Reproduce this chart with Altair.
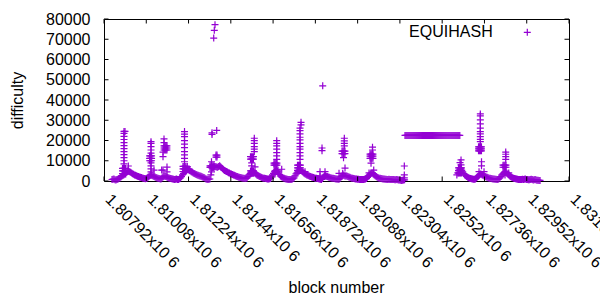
import altair as alt
import pandas as pd

SERIES_NAME = "EQUIHASH"
PURPLE = "#9400D3"
FONT = "Liberation Sans"
FS = 16

X_DOMAIN = [1807920, 1831680]
Y_DOMAIN = [0, 80000]
X_TICKS = [1807920, 1810080, 1812240, 1814400, 1816560, 1818720,
           1820880, 1823040, 1825200, 1827360, 1829520, 1831680]
Y_TICKS = [0, 10000, 20000, 30000, 40000, 50000, 60000, 70000, 80000]

# consecutive-block baseline, read every 50 blocks (A at +0, B at +50)
BASE1_START = 1808330
BASE1_STEP = 100
BASE1_A = [
    700, 1000, 500, 900, 1500, 2500, 3000, 3500, 5000, 4600,
    4000, 3300, 2800, 2400, 2000, 1700, 1300, 1100, 1500, 2500,
    3000, 2500, 2000, 1500, 1200, 1000, 2000, 2500, 2000, 1500,
    1200, 1000, 800, 1000, 700, 1500, 3000, 4500, 5500, 5500,
    5000, 4300, 3700, 3200, 2800, 2500, 2100, 1700, 1000, 800,
    1000, 6500, 7000, 7000, 6800, 7500, 6500, 5500, 5000, 4400,
    3900, 3400, 3000, 2600, 2200, 1900, 1600, 1400, 1200, 1500,
    3000, 4000, 5000, 4000, 3000, 2500, 2000, 1500, 1300, 1100,
    1000, 1200, 3000, 4500, 5500, 4000, 2500, 1800, 1300, 1000,
    800, 700, 900, 1500, 3500, 4500, 5500, 5000, 4000, 3300,
    2800, 2400, 2000, 1700, 1400, 1200, 1000, 800, 2000, 2500,
    2200, 1800, 1500, 1300, 1100, 1000, 900, 2000, 3000, 2500,
    2500, 2000, 1600, 1300, 1100, 1000, 900, 800, 800, 900,
    1200, 2500, 3500, 4000, 3000, 2200, 1600, 1300, 1100, 1000,
    900, 800, 800, 700, 700, 600, 600, 500, 300, 500,
]
BASE1_B = [
    900, 600, 800, 1200, 2000, 2800, 3300, 4300, 4800, 4300,
    3600, 3000, 2600, 2200, 1800, 1500, 1200, 1200, 2000, 2800,
    2700, 2200, 1700, 1300, 1100, 1500, 2300, 2200, 1700, 1300,
    1100, 900, 900, 800, 1100, 2200, 3800, 5000, 5600, 5200,
    4600, 4000, 3400, 3000, 2600, 2300, 1900, 1300, 900, 900,
    3000, 6800, 7200, 6900, 7200, 7000, 6000, 5200, 4700, 4100,
    3600, 3200, 2800, 2400, 2000, 1700, 1500, 1300, 1300, 2200,
    3500, 4500, 4500, 3500, 2700, 2200, 1700, 1400, 1200, 1000,
    1100, 2000, 3800, 5000, 4800, 3200, 2100, 1500, 1100, 900,
    700, 800, 1200, 2500, 4000, 5000, 5200, 4500, 3600, 3000,
    2600, 2200, 1800, 1500, 1300, 1100, 900, 1200, 2300, 2400,
    2000, 1600, 1400, 1200, 1000, 900, 1400, 2500, 2800, 2500,
    2200, 1800, 1400, 1200, 1000, 900, 800, 800, 800, 1000,
    1800, 3000, 3800, 3500, 2600, 1900, 1400, 1200, 1000, 900,
    800, 900, 700, 800, 600, 700, 500, 400, 400, 600,
]

PLATEAU_START = 1823300
PLATEAU_STEP = 50
PLATEAU_VALUES = [
    22500, 22500, 22500, 22500, 22500, 22500, 22500, 22500, 22500, 22500,
    22500, 22500, 22500, 22500, 22500, 22500, 22500, 22500, 22500, 22500,
    22500, 22500, 22500, 22500, 22500, 22500, 22500, 22500, 22500, 22500,
    22500, 22500, 22500, 22500, 22500, 22500, 22500, 22500, 22500, 22500,
    22500, 22500, 22500, 22500, 22500, 22500, 22500, 22500, 22500, 22500,
    22500, 22500, 22500, 22500, 22500, 22500, 22500,
]

BASE2_START = 1825950
BASE2_STEP = 100
BASE2_A = [
    3000, 5000, 6000, 4500, 3000, 2200, 1600, 1200, 1000, 900,
    1500, 2500, 3500, 3000, 2500, 2000, 1600, 1300, 1100, 1000,
    900, 800, 1500, 3000, 4000, 4500, 3500, 2500, 1800, 1400,
    1100, 900, 800, 700, 800, 1000, 700, 600, 900, 500,
    700, 400, 300,
]
BASE2_B = [
    4000, 5500, 5200, 3700, 2600, 1900, 1400, 1100, 900, 1000,
    2000, 3000, 3300, 2800, 2200, 1800, 1400, 1200, 1000, 900,
    800, 1100, 2200, 3500, 4200, 4000, 3000, 2100, 1600, 1200,
    1000, 800, 700, 900, 900, 800, 600, 800, 700, 600,
    500, 400, 300,
]

# solid clusters: every block from .._FROM to .._TO holds these difficulties
DENSE_FROM = [1808865, 1810250, 1810986, 1811957, 1813337, 1813643, 1815406,
              1815406, 1816607, 1817808, 1820082, 1821513, 1826035, 1827057,
              1828309]
DENSE_TO = [1809019, 1810398, 1811139, 1812110, 1813566, 1813720, 1815559,
            1815559, 1816760, 1817962, 1820235, 1821666, 1826188, 1827210,
            1828462]
DENSE_VALUES = [
    [3700, 5000, 6200],
    [10000, 11200, 12400],
    [15300, 16300, 17300],
    [4700, 6000, 7200],
    [6700, 7500],
    [11800, 12800],
    [10800, 12000],
    [3800, 5000],
    [7800, 8800],
    [5200, 6500, 7800],
    [13500, 14800],
    [11200, 12300, 13300],
    [3900, 5200, 6500],
    [14900, 15900, 16900],
    [6800, 7800],
]

# individual spike points: block number and the difficulties seen there
SPIKE_BLOCKS = [
    1808942, 1808993, 1809162,
    1810322, 1810475, 1810868, 1810935, 1810986, 1811139,
    1812034, 1812177, 1812264,
    1813413, 1813439, 1813526, 1813556, 1813592, 1813679,
    1815467, 1815600, 1815636,
    1816658, 1816745, 1816811, 1817000,
    1817936, 1817987, 1818191,
    1818958, 1819060, 1819096, 1819213,
    1819929, 1820118, 1820159, 1820200, 1820235,
    1821462, 1821564, 1821640, 1821702,
    1823265,
    1826112, 1826163,
    1827083, 1827149, 1827210, 1827338,
    1828411, 1828447, 1828600,
]
SPIKE_VALUES = [
    [8500, 10000, 11500, 13000, 14500, 16000, 17500, 19000, 20500, 22000,
     23500, 24500],
    [24500],
    [7400],
    [3000, 4500, 6000, 7500, 9000, 13800, 15300, 17000, 18600, 19400],
    [5400],
    [5400],
    [5400, 12000, 14300],
    [19000, 20800],
    [6900, 4500],
    [9500, 11200, 12900, 14500, 16500, 18200, 19900, 21900, 23100, 24400],
    [7100],
    [5900],
    [9500, 4500],
    [23000, 23800],
    [70600],
    [74400],
    [77200],
    [25000],
    [7500, 9000],
    [14500, 15700, 17000, 18600, 19900, 21100],
    [7000],
    [3500, 5000],
    [10700, 12400, 14000, 15700, 17300, 18600, 19900],
    [5400],
    [5800],
    [10700, 12400, 14000, 15700, 17000, 18600, 20300, 21600, 23300, 24900,
     26100],
    [27700, 29000],
    [4600],
    [2500, 4600],
    [15000, 16300],
    [47000],
    [3000, 4600],
    [3800],
    [3800],
    [11500],
    [17300, 18600, 19800, 21100],
    [6400],
    [4000],
    [8800],
    [15300, 16700],
    [5400],
    [1500, 3000, 7400],
    [9100],
    [8000, 10400],
    [4600],
    [19400, 20600, 21900, 23300, 24400, 26100, 28200, 30200, 32200, 33100],
    [7500, 9500],
    [4600],
    [3000, 4500],
    [10700, 12000, 13200, 14300],
    [4000],
]

rows = []
for start, step, vals in [(BASE1_START, BASE1_STEP, BASE1_A),
                          (BASE1_START + 50, BASE1_STEP, BASE1_B),
                          (PLATEAU_START, PLATEAU_STEP, PLATEAU_VALUES),
                          (BASE2_START, BASE2_STEP, BASE2_A),
                          (BASE2_START + 50, BASE2_STEP, BASE2_B)]:
    for i, v in enumerate(vals):
        rows.append({"block": start + i * step, "difficulty": v})
for b0, b1, vals in zip(DENSE_FROM, DENSE_TO, DENSE_VALUES):
    for b in range(b0, b1 + 1, 50):
        for v in vals:
            rows.append({"block": b, "difficulty": v})
for b, vals in zip(SPIKE_BLOCKS, SPIKE_VALUES):
    for v in vals:
        rows.append({"block": b, "difficulty": v})
df = pd.DataFrame(rows)

CROSS = "M-1,0H1M0,-1V1"
W, H = 465, 162
SW = 1.2

x_enc = alt.X(
    "block:Q",
    scale=alt.Scale(domain=X_DOMAIN, nice=False, zero=False),
    axis=alt.Axis(
        values=X_TICKS,
        labelExpr="format(datum.value / 1000000, '.5~f') + 'x10 6'",
        labelAngle=45, labelAlign="left", labelBaseline="alphabetic",
        labelPadding=19, labelFontSize=FS, labelFont=FONT, labelColor="black",
        labelOverlap=False, labelFlush=False, labelBound=False,
        ticks=False, tickSize=0, domain=False, grid=False,
        title="block number", titleFontSize=FS, titleFont=FONT,
        titleFontWeight="normal", titleColor="black",
        titleX=232, titleY=106, titleAlign="center", titleBaseline="middle",
    ),
)
y_enc = alt.Y(
    "difficulty:Q",
    scale=alt.Scale(domain=Y_DOMAIN, nice=False, zero=True),
    axis=alt.Axis(
        values=Y_TICKS, format="d",
        labelPadding=14, labelFontSize=FS, labelFont=FONT, labelColor="black",
        ticks=False, tickSize=0, domain=False, grid=False,
        title="difficulty", titleFontSize=FS, titleFont=FONT,
        titleFontWeight="normal", titleColor="black",
        titleX=-87, titleY=81, titleAngle=270, titleAlign="center",
        titleBaseline="middle",
    ),
)

points = alt.Chart(df).mark_point(
    shape=CROSS, size=49, filled=False, color=PURPLE, strokeWidth=SW, opacity=1
).encode(x=x_enc, y=y_enc)

xt = pd.DataFrame({"block": X_TICKS})
yt = pd.DataFrame({"difficulty": Y_TICKS})
TL = 4.5
xtick_bottom = alt.Chart(xt).mark_rule(color="black", strokeWidth=1).encode(
    x=x_enc, y=alt.value(H - TL), y2=alt.value(H))
xtick_top = alt.Chart(xt).mark_rule(color="black", strokeWidth=1).encode(
    x=x_enc, y=alt.value(0), y2=alt.value(TL))
ytick_left = alt.Chart(yt).mark_rule(color="black", strokeWidth=1).encode(
    y=y_enc, x=alt.value(0), x2=alt.value(TL))
ytick_right = alt.Chart(yt).mark_rule(color="black", strokeWidth=1).encode(
    y=y_enc, x=alt.value(W - TL), x2=alt.value(W))

leg = pd.DataFrame({"name": [SERIES_NAME]})
leg_text = alt.Chart(leg).mark_text(
    align="right", baseline="middle", fontSize=FS, font=FONT, color="black"
).encode(x=alt.value(388.7), y=alt.value(13.3), text="name:N")
leg_mark = alt.Chart(leg).mark_point(
    shape=CROSS, size=49, filled=False, color=PURPLE, strokeWidth=SW, opacity=1
).encode(x=alt.value(423.3), y=alt.value(13.3))

chart = alt.layer(
    points, xtick_bottom, xtick_top, ytick_left, ytick_right, leg_text, leg_mark
).properties(
    width=W, height=H,
    padding={"left": 104, "top": 19, "right": 31, "bottom": 119},
    autosize=alt.AutoSizeParams(type="none"),
    background="white",
).configure_view(stroke="black", strokeWidth=1)

chart.save("out.html", embed_options={"renderer": "svg", "actions": False})
